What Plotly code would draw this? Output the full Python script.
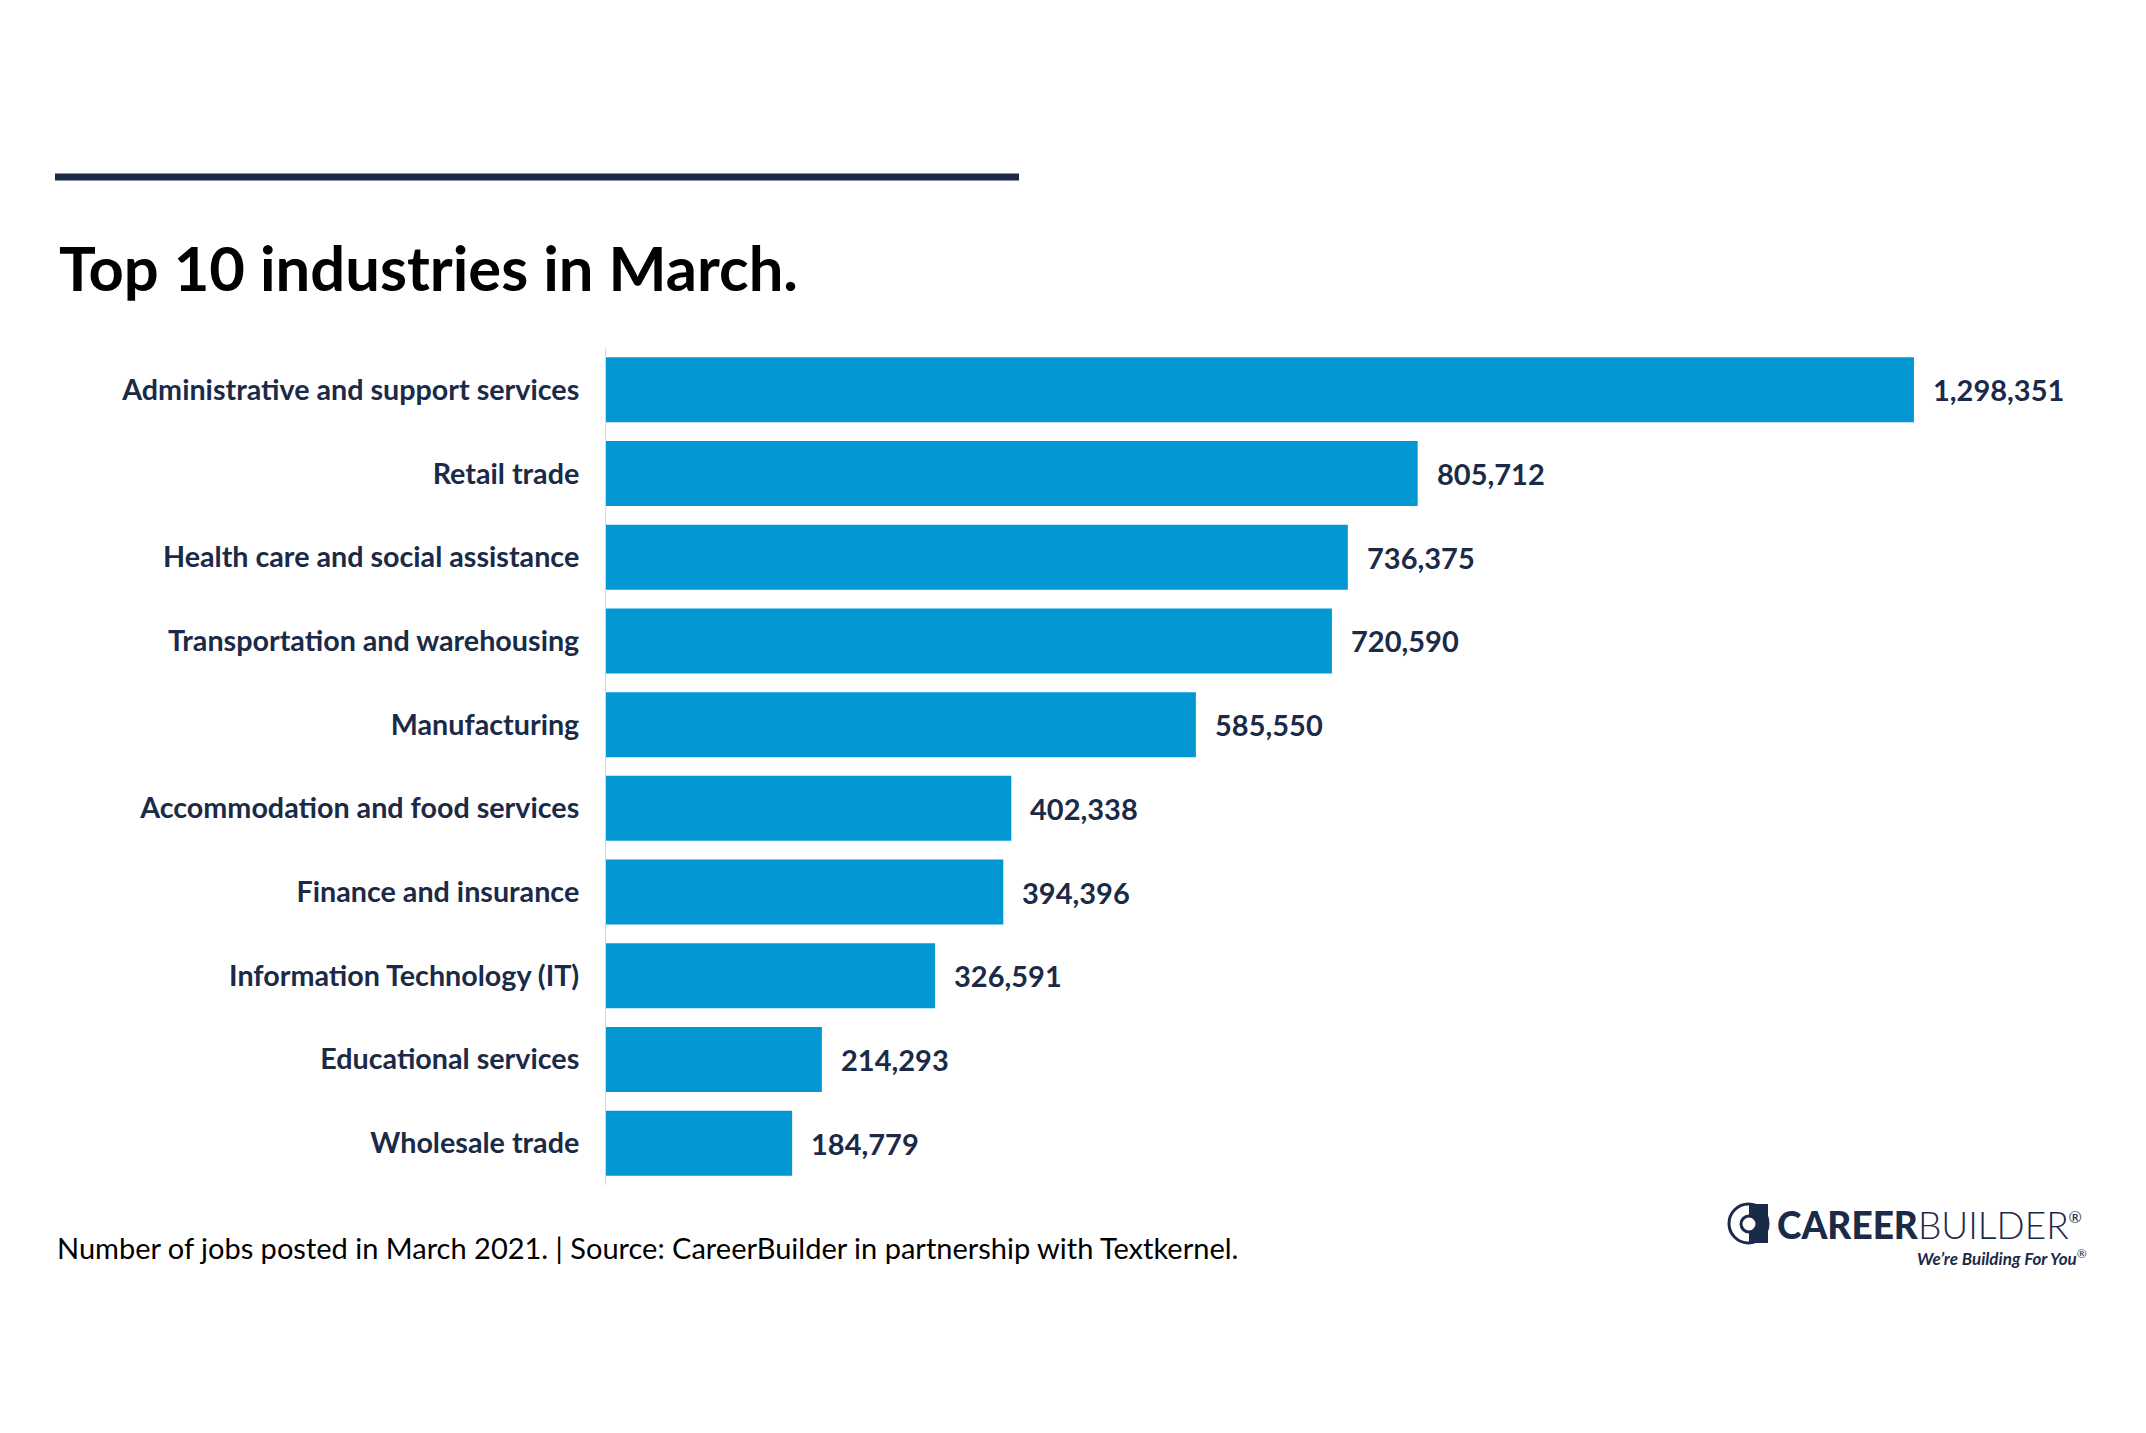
import plotly.graph_objects as go

categories = [
    "Administrative and support services",
    "Retail trade",
    "Health care and social assistance",
    "Transportation and warehousing",
    "Manufacturing",
    "Accommodation and food services",
    "Finance and insurance",
    "Information Technology (IT)",
    "Educational services",
    "Wholesale trade",
]
jobs_posted = [1298351, 805712, 736375, 720590, 585550, 402338, 394396, 326591, 214293, 184779]

title_text = "Top 10 industries in March."
footer_text = "Number of jobs posted in March 2021. | Source: CareerBuilder in partnership with Textkernel."

# page body has an 8px margin; work in screen pixels and offset
OFF = 8
FIG_W, FIG_H = 2146 - 2 * OFF, 1433 - 2 * OFF
L, T = 606 - OFF, 348 - OFF
PW = 2090 - 606
PH = 1185 - 348
R = FIG_W - L - PW
B = FIG_H - T - PH

BAR_BLUE = "#0398D3"
NAVY = "#1B2A47"


def px(x):
    return (x - OFF - L) / PW


def py(y):
    return (FIG_H - B - (y - OFF)) / PH


fig = go.Figure()
fig.add_trace(go.Bar(
    x=jobs_posted,
    y=categories,
    orientation="h",
    marker=dict(color=BAR_BLUE, line=dict(width=0)),
    hoverinfo="skip",
))

annotations = []
for c, v in zip(categories, jobs_posted):
    annotations.append(dict(
        x=v, y=c, xref="x", yref="y",
        text=f"{v:,}", showarrow=False,
        xanchor="left", yanchor="middle", xshift=17,
        font=dict(family="Lato", size=29, color=NAVY, weight="bold"),
    ))

annotations.append(dict(
    x=px(57), y=py(267), xref="paper", yref="paper",
    text=f"<b>{title_text}</b>", showarrow=False,
    xanchor="left", yanchor="middle",
    font=dict(family="Lato", size=61.5, color="#000000"),
))
annotations.append(dict(
    x=px(55), y=py(1247), xref="paper", yref="paper",
    text=footer_text, showarrow=False,
    xanchor="left", yanchor="middle",
    font=dict(family="Lato", size=29, color="#000000"),
))
# Logo text
annotations.append(dict(
    x=px(1775), y=py(1224), xref="paper", yref="paper",
    text=('<span style="font-weight:900">CAREER</span>'
          '<span style="font-weight:300">BUILDER</span>'
          '<sup><span style="font-size:16px">®</span></sup>'),
    showarrow=False,
    xanchor="left", yanchor="middle",
    font=dict(family="Lato", size=37, color=NAVY),
))
annotations.append(dict(
    x=px(2089), y=py(1257), xref="paper", yref="paper",
    text="<b><i>We’re Building For You</i></b><sup>®</sup>", showarrow=False,
    xanchor="right", yanchor="middle",
    font=dict(family="Lato", size=17, color=NAVY),
))

shapes = [
    dict(type="line", xref="paper", yref="paper",
         x0=px(55), x1=px(1019), y0=py(177), y1=py(177),
         line=dict(color="#1C2A48", width=7)),
    # logo icon
    dict(type="circle", xref="paper", yref="paper",
         x0=px(1729), x1=px(1768), y0=py(1243), y1=py(1204),
         line=dict(color=NAVY, width=3), fillcolor="white"),
    dict(type="rect", xref="paper", yref="paper",
         x0=px(1749), x1=px(1768), y0=py(1243), y1=py(1204),
         line=dict(width=0), fillcolor=NAVY),
    dict(type="circle", xref="paper", yref="paper",
         x0=px(1741), x1=px(1757), y0=py(1232), y1=py(1216),
         line=dict(color=NAVY, width=3), fillcolor="white"),
]

fig.update_layout(
    width=FIG_W, height=FIG_H,
    margin=dict(l=L, r=R, t=T, b=B, pad=0),
    paper_bgcolor="white", plot_bgcolor="white",
    bargap=0.224,
    showlegend=False,
    annotations=annotations,
    shapes=shapes,
    xaxis=dict(range=[0, PW / 0.0010074], visible=False, fixedrange=True),
    yaxis=dict(
        autorange="reversed",
        showline=True, linecolor="#D9D9D9", linewidth=1,
        showgrid=False, zeroline=False,
        ticks="", ticklabelstandoff=20,
        tickfont=dict(family="Lato", size=28.7, color=NAVY, weight="bold"),
        fixedrange=True,
    ),
)

fig.write_html("out.html", config={"displayModeBar": False})
